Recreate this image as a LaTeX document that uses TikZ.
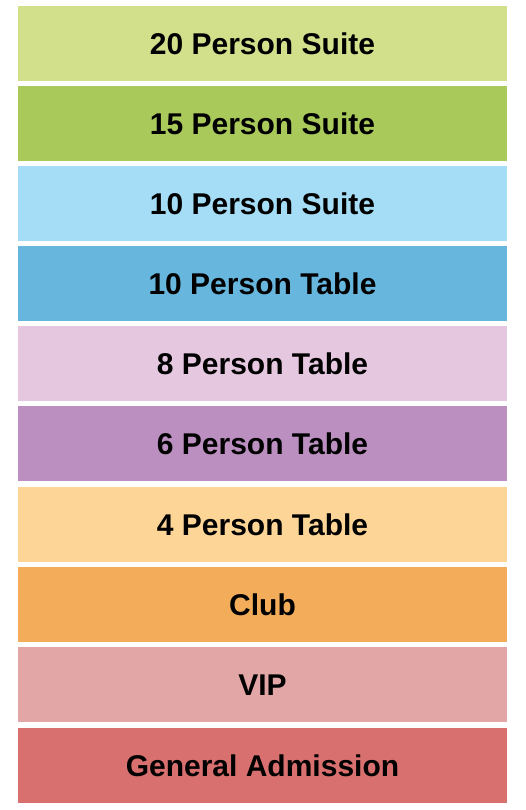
\documentclass[tikz,border=0pt]{standalone}
\usepackage{fontspec}
\setmainfont{Liberation Sans}
\usepackage{tikz}

\definecolor{suitetwenty}{HTML}{D3E08B}
\definecolor{suitefifteen}{HTML}{A9C95A}
\definecolor{suiteten}{HTML}{A4DDF5}
\definecolor{tableten}{HTML}{66B6DE}
\definecolor{tableeight}{HTML}{E5C8E0}
\definecolor{tablesix}{HTML}{BB8FC0}
\definecolor{tablefour}{HTML}{FCD597}
\definecolor{club}{HTML}{F3AC5A}
\definecolor{vip}{HTML}{E3A6A6}
\definecolor{ga}{HTML}{D97070}

\tikzset{seclabel/.style={anchor=base, inner sep=0pt, font=\fontsize{30}{36}\selectfont\bfseries}}

\begin{document}
\begin{tikzpicture}[x=1pt, y=-1pt]
                    \useasboundingbox (0,0) rectangle (525,810);
                    \fill[suitetwenty] (18,6) rectangle (507,81); \node[seclabel] (s20) at (262.5, 54.3) {20 Person Suite};
                    \fill[suitefifteen] (18,86) rectangle (507,161); \node[seclabel] (s15) at (262.5, 134.3) {15 Person Suite};
                    \fill[suiteten] (18,166) rectangle (507,241); \node[seclabel] (s10) at (262.5, 214.3) {10 Person Suite};
                    \fill[tableten] (18,246) rectangle (507,321); \node[seclabel] (t10) at (262.5, 294.3) {10 Person Table};
                    \fill[tableeight] (18,326) rectangle (507,401); \node[seclabel] (t8) at (262.5, 374.3) {8 Person Table};
                    \fill[tablesix] (18,406) rectangle (507,481); \node[seclabel] (t6) at (262.5, 454.3) {6 Person Table};
                    \fill[tablefour] (18,487) rectangle (507,562); \node[seclabel] (t4) at (262.5, 535.3) {4 Person Table};
                    \fill[club] (18,567) rectangle (507,642); \node[seclabel] (club) at (262.5, 615.3) {Club};
                    \fill[vip] (18,647) rectangle (507,722); \node[seclabel] (vip) at (262.5, 695.3) {VIP};
                    \fill[ga] (18,728) rectangle (507,803); \node[seclabel] (ga) at (262.5, 776.3) {General Admission};
                \end{tikzpicture}
\end{document}
